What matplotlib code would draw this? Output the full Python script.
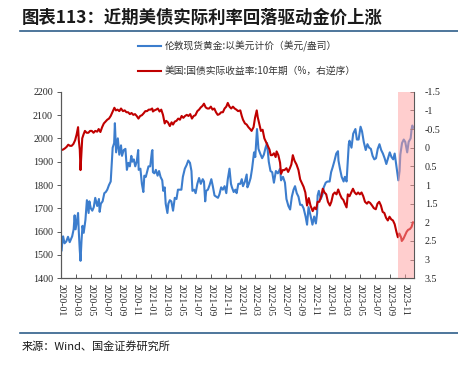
import matplotlib
matplotlib.use('Agg')
import matplotlib.pyplot as plt
import matplotlib.dates as mdates
from matplotlib.lines import Line2D
from matplotlib.ticker import FuncFormatter
import pandas as pd

plt.rcParams['font.family'] = ['Noto Sans CJK SC', 'DejaVu Sans']

# London spot gold, USD/oz
gold_dates = [
    '2020-01-02', '2020-01-06', '2020-01-08', '2020-01-14', '2020-01-21', '2020-01-28',
    '2020-02-04', '2020-02-10', '2020-02-14', '2020-02-20', '2020-02-24', '2020-02-28',
    '2020-03-04', '2020-03-09', '2020-03-12', '2020-03-16', '2020-03-19', '2020-03-23', '2020-03-27',
    '2020-04-01', '2020-04-08', '2020-04-14', '2020-04-21', '2020-04-24', '2020-04-30',
    '2020-05-06', '2020-05-12', '2020-05-18', '2020-05-26',
    '2020-06-02', '2020-06-05', '2020-06-10', '2020-06-17', '2020-06-24', '2020-06-30',
    '2020-07-06', '2020-07-13', '2020-07-20', '2020-07-24', '2020-07-28',
    '2020-08-03', '2020-08-06', '2020-08-11', '2020-08-18', '2020-08-24', '2020-08-31',
    '2020-09-04', '2020-09-11', '2020-09-18', '2020-09-24', '2020-09-30',
    '2020-10-06', '2020-10-12', '2020-10-16', '2020-10-22', '2020-10-28',
    '2020-11-03', '2020-11-09', '2020-11-11', '2020-11-18', '2020-11-24', '2020-11-30',
    '2020-12-04', '2020-12-10', '2020-12-16', '2020-12-21', '2020-12-28',
    '2021-01-04', '2021-01-06', '2021-01-08', '2021-01-14', '2021-01-20', '2021-01-27',
    '2021-02-02', '2021-02-08', '2021-02-15', '2021-02-19', '2021-02-25',
    '2021-03-01', '2021-03-08', '2021-03-12', '2021-03-18', '2021-03-24', '2021-03-31',
    '2021-04-07', '2021-04-14', '2021-04-20', '2021-04-26',
    '2021-05-04', '2021-05-10', '2021-05-18', '2021-05-25',
    '2021-06-01', '2021-06-08', '2021-06-14', '2021-06-18', '2021-06-25',
    '2021-07-01', '2021-07-08', '2021-07-15', '2021-07-22', '2021-07-30',
    '2021-08-04', '2021-08-09', '2021-08-13', '2021-08-20', '2021-08-27',
    '2021-09-03', '2021-09-09', '2021-09-16', '2021-09-23', '2021-09-30',
    '2021-10-06', '2021-10-13', '2021-10-20', '2021-10-27',
    '2021-11-03', '2021-11-09', '2021-11-16', '2021-11-22', '2021-11-26',
    '2021-12-03', '2021-12-10', '2021-12-15', '2021-12-22', '2021-12-30',
    '2022-01-05', '2022-01-10', '2022-01-18', '2022-01-25', '2022-01-28',
    '2022-02-03', '2022-02-10', '2022-02-16', '2022-02-24',
    '2022-03-01', '2022-03-08', '2022-03-14', '2022-03-21', '2022-03-29',
    '2022-04-05', '2022-04-12', '2022-04-18', '2022-04-25',
    '2022-05-02', '2022-05-09', '2022-05-16', '2022-05-24',
    '2022-06-01', '2022-06-10', '2022-06-14', '2022-06-22', '2022-06-30',
    '2022-07-06', '2022-07-14', '2022-07-21', '2022-07-28',
    '2022-08-04', '2022-08-10', '2022-08-17', '2022-08-24', '2022-08-31',
    '2022-09-07', '2022-09-14', '2022-09-22', '2022-09-28',
    '2022-10-04', '2022-10-12', '2022-10-20', '2022-10-27',
    '2022-11-03', '2022-11-08', '2022-11-10', '2022-11-15', '2022-11-23', '2022-11-30',
    '2022-12-05', '2022-12-13', '2022-12-20', '2022-12-29',
    '2023-01-04', '2023-01-10', '2023-01-18', '2023-01-25',
    '2023-02-01', '2023-02-03', '2023-02-09', '2023-02-16', '2023-02-24',
    '2023-03-01', '2023-03-08', '2023-03-13', '2023-03-17', '2023-03-20', '2023-03-28',
    '2023-04-04', '2023-04-13', '2023-04-19', '2023-04-26',
    '2023-05-04', '2023-05-10', '2023-05-17', '2023-05-25',
    '2023-06-01', '2023-06-08', '2023-06-15', '2023-06-22', '2023-06-29',
    '2023-07-06', '2023-07-13', '2023-07-20', '2023-07-27',
    '2023-08-03', '2023-08-10', '2023-08-17', '2023-08-24', '2023-08-31',
    '2023-09-07', '2023-09-14', '2023-09-20', '2023-09-27',
    '2023-10-05', '2023-10-10', '2023-10-13', '2023-10-20', '2023-10-27',
    '2023-11-02', '2023-11-10', '2023-11-16', '2023-11-24', '2023-11-28',
    '2023-12-01', '2023-12-04',
]
gold_price = [
    1520, 1570, 1580, 1550, 1558, 1578,
    1555, 1570, 1580, 1610, 1670, 1610,
    1645, 1680, 1600, 1520, 1475, 1560, 1625,
    1595, 1650, 1735, 1680, 1730, 1700,
    1690, 1705, 1745, 1710,
    1740, 1685, 1720, 1730, 1765, 1770,
    1780, 1800, 1815, 1890, 1960,
    1980, 2065, 1940, 2000, 1930, 1970,
    1925, 1950, 1955, 1865, 1895,
    1880, 1925, 1900, 1910, 1880,
    1900, 1950, 1865, 1870, 1805, 1770,
    1840, 1835, 1860, 1880, 1880,
    1945, 1950, 1855, 1850, 1865, 1840,
    1860, 1835, 1820, 1775, 1790,
    1720, 1680, 1720, 1735, 1730, 1690,
    1745, 1740, 1780, 1780,
    1780, 1835, 1870, 1885,
    1905, 1895, 1860, 1775, 1780,
    1765, 1805, 1830, 1805, 1825,
    1815, 1730, 1775, 1780, 1800,
    1825, 1795, 1755, 1750, 1745,
    1760, 1790, 1780, 1795,
    1765, 1825, 1870, 1805, 1790,
    1770, 1780, 1765, 1805, 1805,
    1825, 1795, 1815, 1845, 1790,
    1805, 1830, 1870, 1940,
    1920, 2040, 1955, 1935, 1915,
    1930, 1960, 1980, 1900,
    1860, 1855, 1810, 1860,
    1850, 1870, 1820, 1835, 1810,
    1740, 1710, 1695, 1750,
    1780, 1795, 1765, 1750, 1715,
    1715, 1700, 1665, 1630,
    1705, 1670, 1630, 1665,
    1635, 1680, 1755, 1775, 1740, 1760,
    1790, 1810, 1815, 1815,
    1855, 1875, 1905, 1935,
    1945, 1905, 1870, 1835, 1815,
    1835, 1815, 1905, 1975, 1990, 1960,
    2020, 2040, 1995, 1995,
    2050, 2030, 1985, 1950,
    1975, 1960, 1955, 1925, 1910,
    1915, 1955, 1975, 1950,
    1935, 1915, 1890, 1915, 1940,
    1920, 1910, 1935, 1880,
    1820, 1860, 1930, 1980, 1995,
    1985, 1940, 1985, 2000, 2040,
    2055, 2045,
]

# US 10Y TIPS real yield, % (plotted on reversed right axis)
real_dates = [
    '2020-01-02', '2020-01-08', '2020-01-15', '2020-01-22', '2020-01-29',
    '2020-02-05', '2020-02-12', '2020-02-19', '2020-02-26',
    '2020-03-03', '2020-03-06', '2020-03-09', '2020-03-12', '2020-03-16', '2020-03-19', '2020-03-23', '2020-03-26', '2020-03-31',
    '2020-04-06', '2020-04-13', '2020-04-20', '2020-04-27',
    '2020-05-04', '2020-05-11', '2020-05-18', '2020-05-26',
    '2020-06-01', '2020-06-08', '2020-06-15', '2020-06-22', '2020-06-29',
    '2020-07-06', '2020-07-13', '2020-07-20', '2020-07-27',
    '2020-08-04', '2020-08-10', '2020-08-17', '2020-08-24', '2020-08-31',
    '2020-09-08', '2020-09-15', '2020-09-22', '2020-09-29',
    '2020-10-06', '2020-10-13', '2020-10-20', '2020-10-27',
    '2020-11-03', '2020-11-10', '2020-11-17', '2020-11-24',
    '2020-12-01', '2020-12-08', '2020-12-15', '2020-12-22', '2020-12-29',
    '2021-01-05', '2021-01-08', '2021-01-14', '2021-01-21', '2021-01-28',
    '2021-02-04', '2021-02-11', '2021-02-18', '2021-02-25',
    '2021-03-03', '2021-03-10', '2021-03-18', '2021-03-25', '2021-03-31',
    '2021-04-07', '2021-04-14', '2021-04-21', '2021-04-28',
    '2021-05-05', '2021-05-12', '2021-05-19', '2021-05-26',
    '2021-06-02', '2021-06-09', '2021-06-16', '2021-06-23', '2021-06-30',
    '2021-07-08', '2021-07-15', '2021-07-22', '2021-07-29',
    '2021-08-04', '2021-08-11', '2021-08-18', '2021-08-25',
    '2021-09-01', '2021-09-08', '2021-09-15', '2021-09-22', '2021-09-29',
    '2021-10-06', '2021-10-13', '2021-10-20', '2021-10-27',
    '2021-11-03', '2021-11-09', '2021-11-16', '2021-11-23', '2021-11-30',
    '2021-12-07', '2021-12-14', '2021-12-21', '2021-12-30',
    '2022-01-05', '2022-01-10', '2022-01-18', '2022-01-25',
    '2022-02-01', '2022-02-08', '2022-02-14', '2022-02-22', '2022-02-28',
    '2022-03-07', '2022-03-11', '2022-03-17', '2022-03-24', '2022-03-31',
    '2022-04-07', '2022-04-14', '2022-04-21', '2022-04-28',
    '2022-05-03', '2022-05-09', '2022-05-16', '2022-05-23', '2022-05-27',
    '2022-06-03', '2022-06-10', '2022-06-14', '2022-06-21', '2022-06-28',
    '2022-07-06', '2022-07-13', '2022-07-20', '2022-07-26',
    '2022-08-01', '2022-08-08', '2022-08-16', '2022-08-24', '2022-08-31',
    '2022-09-07', '2022-09-14', '2022-09-21', '2022-09-28',
    '2022-10-05', '2022-10-12', '2022-10-21', '2022-10-28',
    '2022-11-04', '2022-11-10', '2022-11-17', '2022-11-25',
    '2022-12-01', '2022-12-08', '2022-12-15', '2022-12-22', '2022-12-30',
    '2023-01-05', '2023-01-12', '2023-01-19', '2023-01-26',
    '2023-02-02', '2023-02-09', '2023-02-16', '2023-02-23',
    '2023-03-01', '2023-03-08', '2023-03-13', '2023-03-20', '2023-03-27',
    '2023-04-03', '2023-04-10', '2023-04-17', '2023-04-24',
    '2023-05-01', '2023-05-08', '2023-05-15', '2023-05-22', '2023-05-30',
    '2023-06-05', '2023-06-12', '2023-06-20', '2023-06-27',
    '2023-07-05', '2023-07-12', '2023-07-19', '2023-07-26',
    '2023-08-02', '2023-08-09', '2023-08-16', '2023-08-23', '2023-08-30',
    '2023-09-06', '2023-09-13', '2023-09-20', '2023-09-27',
    '2023-10-03', '2023-10-09', '2023-10-16', '2023-10-19', '2023-10-25',
    '2023-11-01', '2023-11-08', '2023-11-14', '2023-11-21', '2023-11-28',
    '2023-12-01', '2023-12-04',
]
real_yield = [
    0.06, 0.05, 0.02, -0.02, -0.08,
    -0.05, -0.05, -0.10, -0.20,
    -0.35, -0.45, -0.55, -0.20, 0.05, 0.60, 0.10, -0.25, -0.35,
    -0.45, -0.40, -0.40, -0.45,
    -0.45, -0.40, -0.45, -0.43,
    -0.50, -0.42, -0.55, -0.65, -0.70,
    -0.75, -0.78, -0.85, -0.95,
    -1.07, -1.00, -1.02, -0.98, -1.05,
    -0.98, -1.00, -0.95, -0.95,
    -0.90, -0.93, -0.88, -0.90,
    -0.85, -0.78, -0.85, -0.87,
    -0.92, -0.98, -0.98, -1.02, -1.02,
    -1.05, -0.97, -1.00, -1.02, -1.05,
    -0.97, -1.02, -0.88, -0.65,
    -0.72, -0.68, -0.58, -0.68, -0.62,
    -0.70, -0.72, -0.78, -0.75,
    -0.85, -0.80, -0.85, -0.88,
    -0.85, -0.90, -0.78, -0.85, -0.87,
    -0.98, -1.02, -1.08, -1.12,
    -1.18, -1.08, -1.05, -1.05,
    -1.10, -1.02, -1.05, -0.95, -0.88,
    -0.90, -0.95, -0.95, -1.05,
    -1.10, -1.20, -1.10, -1.05, -1.10,
    -1.05, -1.02, -0.98, -1.00,
    -0.85, -0.75, -0.65, -0.62,
    -0.55, -0.50, -0.45, -0.55, -0.80,
    -1.00, -0.82, -0.65, -0.45, -0.48,
    -0.25, -0.15, -0.05, 0.05,
    0.20, 0.20, 0.15, 0.25, 0.10,
    0.20, 0.40, 0.70, 0.60, 0.60,
    0.55, 0.65, 0.55, 0.45,
    0.20, 0.35, 0.45, 0.60, 0.85,
    0.95, 1.05, 1.20, 1.55,
    1.35, 1.55, 1.70, 1.60,
    1.65, 1.45, 1.45, 1.30,
    1.10, 1.20, 1.25, 1.45, 1.55,
    1.45, 1.25, 1.20, 1.25,
    1.12, 1.25, 1.35, 1.40,
    1.50, 1.60, 1.25, 1.30, 1.20,
    1.10, 1.20, 1.25, 1.20,
    1.25, 1.20, 1.30, 1.45, 1.50,
    1.45, 1.48, 1.55, 1.62,
    1.65, 1.50, 1.45, 1.55,
    1.72, 1.75, 1.88, 1.95, 1.85,
    1.92, 1.95, 2.05, 2.25,
    2.40, 2.30, 2.40, 2.50, 2.45,
    2.35, 2.25, 2.20, 2.18, 2.12,
    2.05, 2.00,
]

gold_label = '伦敦现货黄金:以美元计价（美元/盎司）'
real_label = '美国:国债实际收益率:10年期（%，右逆序）'
shade_start = '2023-10-05'
x_start, x_end = '2020-01-01', '2023-12-06'

assert len(gold_dates) == len(gold_price)
assert len(real_dates) == len(real_yield)

gd = pd.to_datetime(gold_dates)
rd = pd.to_datetime(real_dates)

num_font = 'Liberation Serif'
tick_color = '#262626'
spine_color = '#595959'

fig = plt.figure(figsize=(4.58, 3.66), dpi=100)
ax = fig.add_axes([0.134, 0.2396, 0.769, 0.5098])
ax2 = ax.twinx()

l1, = ax.plot(gd, gold_price, color='#3C7DCD', lw=1.5, solid_joinstyle='round')
l2, = ax2.plot(rd, real_yield, color='#C00000', lw=1.5, solid_joinstyle='round')
ax2.axvspan(pd.Timestamp(shade_start), pd.Timestamp(x_end), color='#ff9e9e',
            alpha=0.5, lw=0, zorder=5)

ax.set_xlim(pd.Timestamp(x_start), pd.Timestamp(x_end))
ax.set_ylim(1400, 2200)
ax.set_yticks(range(1400, 2201, 100))
ax2.set_ylim(3.5, -1.5)
ax2.set_yticks([-1.5, -1, -0.5, 0, 0.5, 1, 1.5, 2, 2.5, 3, 3.5])
ax2.yaxis.set_major_formatter(FuncFormatter(lambda v, p: '%g' % v))

xt = pd.date_range('2020-01-01', '2023-11-01', freq='2MS')
ax.set_xticks(xt)
ax.set_xticklabels([d.strftime('%Y-%m') for d in xt], rotation=-90,
                   fontsize=7, family=num_font, color=tick_color, va='top', ha='center')

for a in (ax, ax2):
    a.spines['top'].set_visible(False)
    for s in a.spines.values():
        s.set_color(spine_color)
        s.set_linewidth(0.8)
ax.spines['right'].set_visible(False)

ax.tick_params(axis='y', direction='out', length=3, width=0.7, color=spine_color,
               labelsize=7.2, labelcolor=tick_color, pad=3)
ax.tick_params(axis='x', direction='in', length=3, width=0.7, color=spine_color, pad=4)
ax2.tick_params(axis='y', direction='in', length=3, width=0.7, color=spine_color,
                labelsize=7.2, labelcolor=tick_color, pad=8)
for lab in ax.get_yticklabels() + ax2.get_yticklabels():
    lab.set_family(num_font)

fig.legend([l1, l2], [gold_label, real_label], loc='upper left',
           bbox_to_anchor=(138 / 458, 1 - 41 / 366), frameon=False, fontsize=7,
           handlelength=2.4, handletextpad=0.3, labelspacing=1.45,
           borderpad=0, borderaxespad=0, labelcolor='#333333')

fig.text(22 / 458, 1 - 18 / 366, '图表113：近期美债实际利率回落驱动金价上涨',
         fontsize=12.5, fontweight='bold', style='italic', va='center', color='#1a1a1a')
fig.add_artist(Line2D([20 / 458, 1], [1 - 31 / 366] * 2, color='#2f5f8a', lw=1.2))
fig.add_artist(Line2D([20 / 458, 1], [1 - 333 / 366] * 2, color='#2f5f8a', lw=1.2))
fig.text(22 / 458, 1 - 346 / 366, '来源：Wind、国金证券研究所', fontsize=8,
         va='center', color='#1a1a1a')

fig.savefig('out.png', dpi=100)
